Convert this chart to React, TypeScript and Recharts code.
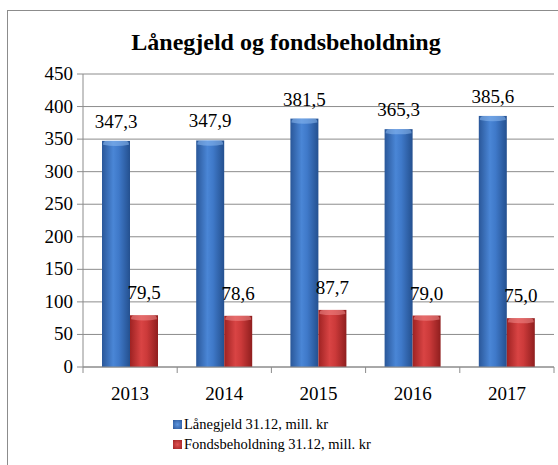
import { BarChart, Bar, XAxis, YAxis, CartesianGrid, Legend, LabelList } from "recharts"

const years = ["2013", "2014", "2015", "2016", "2017"]
const laanegjeld = [347.3, 347.9, 381.5, 365.3, 385.6]
const fond = [79.5, 78.6, 87.7, 79.0, 75.0]
const yTicks = [0, 50, 100, 150, 200, 250, 300, 350, 400, 450]

const data = years.map((y, i) => ({ year: y, laan: laanegjeld[i], fond: fond[i] }))

const W = 558
const H = 465
const M = { top: 74, right: 4, left: 0, bottom: 68 }
const Y_W = 83
const BAND = (W - M.right - Y_W) / years.length
const FONT = "'Liberation Serif', 'DejaVu Serif', serif"
const txt = { fontFamily: FONT, fontSize: 19, fill: "#000" }

const fmt = (v: number) => v.toFixed(1).replace(".", ",")

function Cylinder(props: any) {
  const { x, y, width, height, gid, cap } = props
  if (!height || height <= 0) return null
  const r = Math.min(4, height / 2)
  return (
    <g>
      <rect x={x} y={y} width={width} height={height} fill={`url(#${gid})`} />
      <path
        d={`M${x + 1},${y + r} Q${x + 1},${y} ${x + r + 1},${y} L${x + width - r - 1},${y} Q${x + width - 1},${y} ${x + width - 1},${y + r} Q${x + width / 2},${y + r * 1.6} ${x + 1},${y + r} Z`}
        fill={cap}
        opacity={0.55}
      />
    </g>
  )
}

function XTick(props: any) {
  const { x, y, payload, index } = props
  return (
    <g>
      <line x1={x - BAND / 2} y1={y - 8} x2={x - BAND / 2} y2={y - 2} stroke="#8c8c8c" />
      {index === years.length - 1 && (
        <line x1={x + BAND / 2} y1={y - 8} x2={x + BAND / 2} y2={y - 2} stroke="#8c8c8c" />
      )}
      <text x={x} y={y + 25} textAnchor="middle" style={txt}>
        {payload.value}
      </text>
    </g>
  )
}

function YTick(props: any) {
  const { x, y, payload } = props
  return (
    <text x={x - 2} y={y + 6} textAnchor="end" style={txt}>
      {payload.value}
    </text>
  )
}

function valueLabel(gap: number) {
  return (p: any) => {
    const { x, y, width, value } = p
    return (
      <text x={x + width / 2} y={y - gap} textAnchor="middle" style={txt}>
        {fmt(Number(value))}
      </text>
    )
  }
}

function LegendBox() {
  const items = [
    { label: "Lånegjeld 31.12, mill. kr", c1: "#2a5799", c2: "#5d96e0" },
    { label: "Fondsbeholdning 31.12, mill. kr", c1: "#9e2222", c2: "#e05252" },
  ]
  return (
    <div style={{ fontFamily: FONT, fontSize: 14.5, color: "#000", lineHeight: "20px" }}>
      {items.map(it => (
        <div key={it.label} style={{ display: "flex", alignItems: "center" }}>
          <span
            style={{
              display: "inline-block",
              width: 9,
              height: 9,
              marginRight: 2,
              background: `radial-gradient(circle, ${it.c2}, ${it.c1})`,
            }}
          />
          {it.label}
        </div>
      ))}
    </div>
  )
}

export default function App() {
  return (
    <div style={{ position: "absolute", left: 0, top: 0, width: W, height: H, overflow: "hidden", background: "#fff", fontFamily: FONT }}>
      <div
        style={{
          position: "absolute",
          left: 7,
          top: 10,
          width: 600,
          height: 500,
          border: "1px solid #8c8c8c",
        }}
      />
      <div
        style={{
          position: "absolute",
          top: 29,
          left: 7,
          width: 558,
          textAlign: "center",
          fontFamily: FONT,
          fontWeight: "bold",
          fontSize: 24,
          color: "#000",
        }}
      >
        Lånegjeld og fondsbeholdning
      </div>
      <div style={{ position: "absolute", left: 0, top: 0 }}>
        <BarChart width={W} height={H} data={data} margin={M} barGap={0} barSize={28}>
          <defs>
            <linearGradient id="gBlue" x1="0" y1="0" x2="1" y2="0">
              <stop offset="0%" stopColor="#2a5799" />
              <stop offset="40%" stopColor="#4a86d6" />
              <stop offset="60%" stopColor="#3f79c9" />
              <stop offset="100%" stopColor="#24508f" />
            </linearGradient>
            <linearGradient id="gRed" x1="0" y1="0" x2="1" y2="0">
              <stop offset="0%" stopColor="#9e2222" />
              <stop offset="40%" stopColor="#d94444" />
              <stop offset="60%" stopColor="#cc3a3a" />
              <stop offset="100%" stopColor="#8f1e1e" />
            </linearGradient>
          </defs>
          <CartesianGrid vertical={false} stroke="#8c8c8c" />
          <YAxis
            width={Y_W}
            domain={[0, 450]}
            ticks={yTicks}
            interval={0}
            axisLine={{ stroke: "#8c8c8c" }}
            tickLine={{ stroke: "#8c8c8c" }}
            tickSize={6}
            tick={<YTick />}
          />
          <XAxis
            dataKey="year"
            height={30}
            axisLine={{ stroke: "#8c8c8c" }}
            tickLine={false}
            tick={<XTick />}
            interval={0}
          />
          <Legend
            layout="horizontal"
            verticalAlign="middle"
            content={<LegendBox />}
            wrapperStyle={{ top: 414, left: 173, width: "auto" }}
          />
          <Bar dataKey="laan" isAnimationActive={false} shape={<Cylinder gid="gBlue" cap="#8dbaf0" />}>
            <LabelList dataKey="laan" content={valueLabel(13)} />
          </Bar>
          <Bar dataKey="fond" isAnimationActive={false} shape={<Cylinder gid="gRed" cap="#f08a8a" />}>
            <LabelList dataKey="fond" content={valueLabel(16)} />
          </Bar>
        </BarChart>
      </div>
    </div>
  )
}
